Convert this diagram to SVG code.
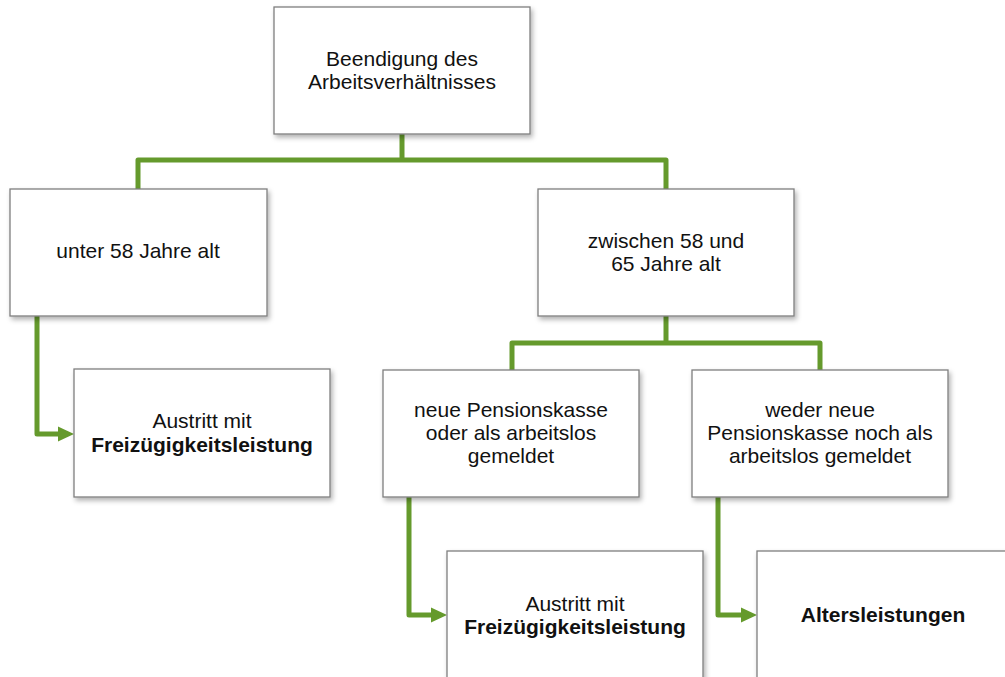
<svg xmlns="http://www.w3.org/2000/svg" width="1005" height="677" viewBox="0 0 1005 677">
<style>
.box{fill:#fff;stroke:#7f7f7f;stroke-width:1.3;filter:url(#sh)}
.t{font-family:"Liberation Sans",Arial,sans-serif;font-size:21px;fill:#111;text-anchor:middle}
.b{font-weight:bold}
.c{fill:none;stroke:#659a2c;stroke-width:5;stroke-linejoin:round}
.a{fill:#659a2c}
</style>
<defs>
<filter id="sh" x="-10%" y="-10%" width="125%" height="130%">
<feDropShadow dx="2" dy="3" stdDeviation="2.5" flood-color="#000" flood-opacity="0.3"/>
</filter>
</defs>
<g id="connectors">
<path class="c" d="M402,134 V160 M138,189 V160 H666 V189"/>
<path class="c" d="M666,316 V343 M512,370 V343 H820 V370"/>
<path class="c" d="M37,316 V434 H58"/>
<path class="a" d="M58,426.5 L74,434 L58,441.5 Z"/>
<path class="c" d="M409,497 V615 H431"/>
<path class="a" d="M431,607.5 L447,615 L431,622.5 Z"/>
<path class="c" d="M718,497 V615 H741"/>
<path class="a" d="M741,607.5 L757,615 L741,622.5 Z"/>
</g>
<g id="n1"><rect class="box" x="274" y="7" width="256" height="127"/>
<text class="t" x="402" y="66">Beendigung des</text><text class="t" x="402" y="89">Arbeitsverhältnisses</text></g>
<g id="n2"><rect class="box" x="10" y="189" width="257" height="127"/>
<text class="t" x="138" y="258">unter 58 Jahre alt</text></g>
<g id="n3"><rect class="box" x="538" y="189" width="256" height="127"/>
<text class="t" x="666" y="248">zwischen 58 und</text><text class="t" x="666" y="271">65 Jahre alt</text></g>
<g id="n4"><rect class="box" x="74" y="369" width="256" height="128"/>
<text class="t" x="202" y="428">Austritt mit</text><text class="t b" x="202" y="452">Freizügigkeitsleistung</text></g>
<g id="n5"><rect class="box" x="383" y="370" width="256" height="127"/>
<text class="t" x="511" y="417">neue Pensionskasse</text><text class="t" x="511" y="440">oder als arbeitslos</text><text class="t" x="511" y="463">gemeldet</text></g>
<g id="n6"><rect class="box" x="692" y="370" width="256" height="127"/>
<text class="t" x="820" y="417">weder neue</text><text class="t" x="820" y="440">Pensionskasse noch als</text><text class="t" x="820" y="463">arbeitslos gemeldet</text></g>
<g id="n7"><rect class="box" x="447" y="551" width="256" height="140"/>
<text class="t" x="575" y="611">Austritt mit</text><text class="t b" x="575" y="634">Freizügigkeitsleistung</text></g>
<g id="n8"><rect class="box" x="757" y="551" width="260" height="140"/>
<text class="t b" x="883" y="622">Altersleistungen</text></g>
</svg>
